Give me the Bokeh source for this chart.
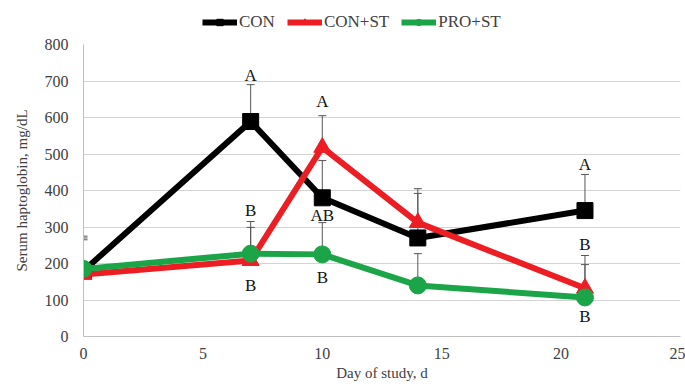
from bokeh.plotting import figure
from bokeh.layouts import column
from bokeh.models import ColumnDataSource, Legend, LegendItem, Whisker, FixedTicker, Range1d
from bokeh.core.properties import value
from bokeh.embed import file_html
from bokeh.resources import INLINE

days = [0, 7, 10, 14, 21]
con = [180, 589, 380, 270, 345]
con_err = [275, 690, 482, 392, 444]
const = [170, 208, 518, 312, 132]
const_err = [265, 299, 605, 405, 197]
prost = [185, 227, 225, 140, 107]
prost_err = [270, 315, 312, 227, 222]

letter_x = [7, 7, 7, 10, 10, 10, 21, 21, 21]
letter_y = [715, 345, 140, 644, 331, 162, 471, 252, 55]
letter_t = ["A", "B", "B", "A", "AB", "B", "A", "B", "B"]

series_names = ["CON", "CON+ST", "PRO+ST"]

FONT = "Liberation Serif"
BLACK = "#000000"
RED = "#EC1E24"
GREEN = "#1BA548"

p = figure(width=685, height=351, output_backend="svg", toolbar_location=None,
           x_range=Range1d(0, 25), y_range=Range1d(0, 800),
           min_border_left=83, min_border_right=5, min_border_bottom=51, min_border_top=8)
p.outline_line_color = None
p.xgrid.grid_line_color = None
p.ygrid.grid_line_color = "#d4d4d4"
p.ygrid.grid_line_width = 1

p.xaxis.ticker = FixedTicker(ticks=[0, 5, 10, 15, 20, 25])
p.yaxis.ticker = FixedTicker(ticks=list(range(0, 801, 100)))
for ax in (p.xaxis[0], p.yaxis[0]):
    ax.axis_line_color = "#bfbfbf"
    ax.major_tick_line_color = None
    ax.minor_tick_line_color = None
    ax.major_tick_out = 0
    ax.major_tick_in = 0
    ax.major_label_text_font = FONT
    ax.major_label_text_font_size = "16px"
    ax.major_label_text_color = "#404040"
    ax.axis_label_text_font = FONT
    ax.axis_label_text_font_size = "15px"
    ax.axis_label_text_font_style = "normal"
    ax.axis_label_text_color = "#404040"
p.xaxis.axis_label = "Day of study, d"
p.yaxis.axis_label = "Serum haptoglobin, mg/dL"
p.xaxis.major_label_standoff = 11
p.yaxis.major_label_standoff = 15
p.xaxis.axis_label_standoff = 3
p.yaxis.axis_label_standoff = 12

for vals, errs in ((con, con_err), (const, const_err), (prost, prost_err)):
    src = ColumnDataSource(dict(x=days, lo=vals, hi=errs))
    w = Whisker(source=src, base="x", lower="lo", upper="hi", dimension="height",
                line_color="#555555", line_width=1)
    w.lower_head = None
    w.upper_head.size = 8
    w.upper_head.line_color = "#555555"
    p.add_layout(w)

src_c = ColumnDataSource(dict(x=days, y=con))
src_r = ColumnDataSource(dict(x=days, y=const))
src_g = ColumnDataSource(dict(x=days, y=prost))

p.line("x", "y", source=src_c, line_color=BLACK, line_width=6)
p.scatter("x", "y", source=src_c, marker="square", size=16, color=BLACK)
p.line("x", "y", source=src_r, line_color=RED, line_width=6)
p.scatter("x", "y", source=src_r, marker="triangle", size=17, color=RED)
p.line("x", "y", source=src_g, line_color=GREEN, line_width=6)
p.scatter("x", "y", source=src_g, marker="circle", size=17, color=GREEN)

p.text(x=letter_x, y=letter_y, text=letter_t, text_font=value(FONT), text_font_size="17px",
       text_align="center", text_baseline="middle", text_color="#111111")

# legend strip on top (series drawn out of its visible range, only legend shows)
lg = figure(width=685, height=36, output_backend="svg", toolbar_location=None,
            x_range=Range1d(0, 1), y_range=Range1d(0, 1),
            min_border_left=0, min_border_right=0, min_border_top=0, min_border_bottom=0)
lg.axis.visible = False
lg.grid.visible = False
lg.outline_line_color = None
items = []
for name, col, mk, src in zip(series_names, [BLACK, RED, GREEN], ["square", "triangle", "circle"],
                              [src_c, src_r, src_g]):
    ln = lg.line("x", "y", source=src, line_color=col, line_width=6)
    sc = lg.scatter("x", "y", source=src, marker=mk, size=10, color=col)
    items.append(LegendItem(label=name, renderers=[ln, sc]))
legend = Legend(items=items, orientation="horizontal", location=(119, 4),
                label_text_font=FONT, label_text_font_size="17px", label_text_color="#404040",
                glyph_width=35, glyph_height=16, label_standoff=2, spacing=12,
                border_line_color=None, background_fill_alpha=0, padding=4, margin=0)
lg.add_layout(legend)

layout = column(lg, p, spacing=0)
open("out.html", "w").write(file_html(layout, INLINE))
